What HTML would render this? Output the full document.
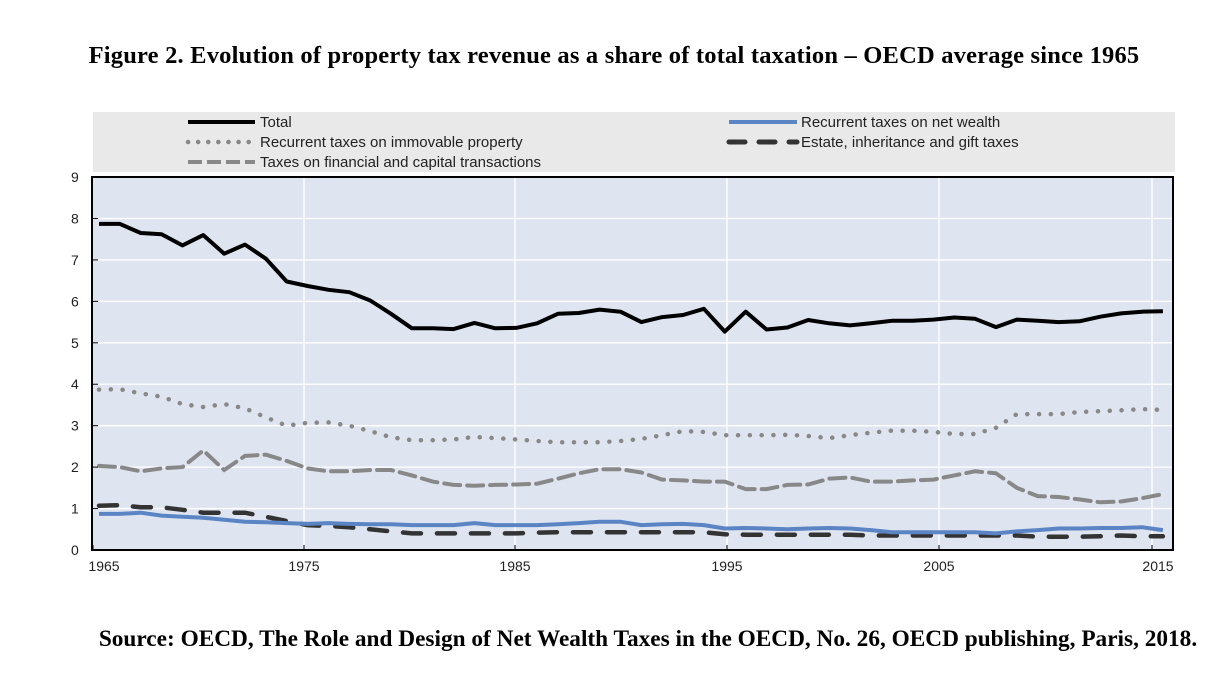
<!DOCTYPE html>
<html><head><meta charset="utf-8"><style>
body{margin:0;background:#fff;width:1228px;height:696px;overflow:hidden;position:relative}
.t{position:absolute;left:0;width:1228px;text-align:center;font-family:"Liberation Serif",serif;font-weight:bold;color:#000;white-space:nowrap}
</style></head><body>
<div class="t" style="top:42px;font-size:24.5px;letter-spacing:0.2px">Figure 2. Evolution of property tax revenue as a share of total taxation – OECD average since 1965</div>
<div class="t" style="top:626px;font-size:23.3px;left:34px">Source: OECD, The Role and Design of Net Wealth Taxes in the OECD, No. 26, OECD publishing, Paris, 2018.</div>
<svg id="s" width="1228" height="696" style="position:absolute;left:0;top:0" font-family="Liberation Sans,sans-serif">
<rect x="93" y="112" width="1082" height="60" fill="#e9e9e9"/>
<rect x="92" y="177" width="1081" height="373" fill="#dfe5f0" stroke="#000" stroke-width="2"/>
<g font-size="15" fill="#222">
<line x1="188" y1="122" x2="255" y2="122" stroke="#000" stroke-width="4"/><text x="260" y="127">Total</text>
<line x1="188" y1="142" x2="255" y2="142" stroke="#888" stroke-width="4.5" stroke-dasharray="0.1 10" stroke-linecap="round"/><text x="260" y="147">Recurrent taxes on immovable property</text>
<line x1="188" y1="162" x2="255" y2="162" stroke="#888" stroke-width="4" stroke-dasharray="14 5"/><text x="260" y="167">Taxes on financial and capital transactions</text>
<line x1="729" y1="122" x2="797" y2="122" stroke="#5b84c4" stroke-width="4"/><text x="801" y="127">Recurrent taxes on net wealth</text>
<line x1="729" y1="142" x2="797" y2="142" stroke="#333" stroke-width="5" stroke-dasharray="16 14" stroke-linecap="round"/><text x="801" y="147">Estate, inheritance and gift taxes</text>
</g>
<g id="grid"></g><g id="ser"></g>
<g id="ax" font-size="14" fill="#222"></g>
</svg>
<script>
var s=document.getElementById('s'),NS='http://www.w3.org/2000/svg';
function el(p,t,a){var e=document.createElementNS(NS,t);for(var k in a)e.setAttribute(k,a[k]);p.appendChild(e);return e;}
var g=document.getElementById('grid'),ax=document.getElementById('ax'),sr=document.getElementById('ser');
function Y(v){return 550-v*41.44;}
for(var i=1;i<9;i++)el(g,'line',{x1:93,x2:1172,y1:Y(i),y2:Y(i),stroke:'#fff','stroke-width':1.3});
for(var i=0;i<=9;i++){var t=el(ax,'text',{x:71,y:Y(i)+5});t.textContent=i;el(ax,'line',{x1:93,x2:98,y1:Y(i),y2:Y(i),stroke:'#000'});}
var yrs=[1965,1975,1985,1995,2005,2015],gx=[93,304,515,727,939,1152];
for(var i=0;i<6;i++){if(i>0)el(g,'line',{x1:gx[i],x2:gx[i],y1:178,y2:549,stroke:'#fff','stroke-width':1.3});el(ax,'line',{x1:gx[i],x2:gx[i],y1:545,y2:550,stroke:'#000'});var t=el(ax,'text',{x:gx[i]+(i==0?11:(i==5?6:0)),y:571,'text-anchor':'middle'});t.textContent=yrs[i];}
var D={
tot:[7.87,7.87,7.65,7.62,7.35,7.6,7.15,7.37,7.03,6.48,6.37,6.28,6.22,6.02,5.7,5.35,5.35,5.33,5.48,5.35,5.36,5.47,5.7,5.72,5.8,5.75,5.5,5.62,5.67,5.82,5.27,5.75,5.32,5.37,5.55,5.47,5.42,5.47,5.53,5.53,5.56,5.61,5.58,5.38,5.56,5.53,5.5,5.52,5.63,5.71,5.75,5.76],
imm:[3.87,3.88,3.78,3.7,3.52,3.45,3.52,3.42,3.2,3.0,3.07,3.08,3.0,2.87,2.72,2.65,2.65,2.67,2.73,2.7,2.67,2.63,2.6,2.6,2.6,2.63,2.68,2.77,2.87,2.85,2.77,2.77,2.77,2.78,2.75,2.7,2.77,2.83,2.88,2.88,2.85,2.8,2.8,2.95,3.28,3.28,3.28,3.33,3.35,3.37,3.4,3.38],
fin:[2.03,2.0,1.9,1.97,2.0,2.4,1.93,2.27,2.3,2.15,1.97,1.9,1.9,1.93,1.93,1.8,1.65,1.57,1.55,1.57,1.58,1.6,1.72,1.85,1.95,1.95,1.87,1.7,1.68,1.65,1.65,1.47,1.47,1.57,1.58,1.72,1.75,1.65,1.65,1.68,1.7,1.8,1.9,1.85,1.5,1.3,1.28,1.22,1.15,1.17,1.25,1.35],
nw:[.87,.87,.9,.83,.8,.78,.73,.68,.67,.65,.63,.65,.63,.62,.62,.6,.6,.6,.65,.6,.6,.6,.62,.65,.68,.68,.6,.62,.63,.6,.52,.53,.52,.5,.52,.53,.52,.48,.43,.43,.43,.43,.43,.4,.45,.48,.52,.52,.53,.53,.55,.48],
est:[1.07,1.08,1.03,1.03,.97,.9,.9,.9,.8,.7,.6,.58,.55,.5,.45,.4,.4,.4,.4,.4,.4,.42,.43,.43,.43,.43,.43,.43,.43,.43,.38,.37,.37,.37,.37,.37,.37,.35,.35,.35,.35,.35,.35,.35,.35,.32,.32,.32,.33,.35,.33,.33]};
function pts(a){return a.map(function(v,i){return (99+i*20.86).toFixed(1)+','+Y(v).toFixed(1)}).join(' ');}
el(sr,'polyline',{points:pts(D.imm),fill:'none',stroke:'#888','stroke-width':4.5,'stroke-dasharray':'0.1 11.7','stroke-linecap':'round'});
el(sr,'polyline',{points:pts(D.fin),fill:'none',stroke:'#888','stroke-width':4,'stroke-dasharray':'16 7','stroke-linecap':'round'});
el(sr,'polyline',{points:pts(D.est),fill:'none',stroke:'#333','stroke-width':4.5,'stroke-dasharray':'18 16','stroke-linecap':'round'});
el(sr,'polyline',{points:pts(D.nw),fill:'none',stroke:'#5b84c4','stroke-width':4,'stroke-linejoin':'round'});
el(sr,'polyline',{points:pts(D.tot),fill:'none',stroke:'#000','stroke-width':4,'stroke-linejoin':'round'});
</script>
</body></html>
